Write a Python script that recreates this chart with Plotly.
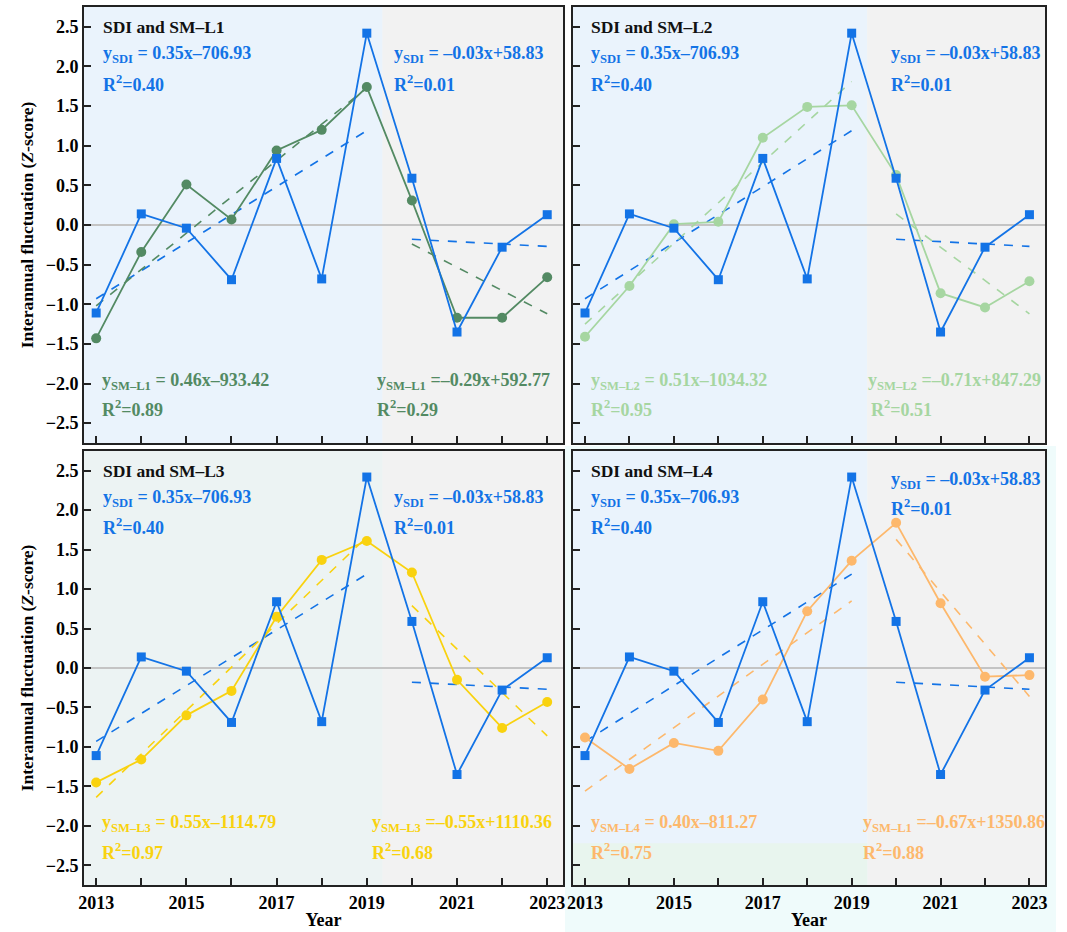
import plotly.graph_objects as go

# ---------------- data ----------------
years = [2013, 2014, 2015, 2016, 2017, 2018, 2019, 2020, 2021, 2022, 2023]
sdi = [-1.11, 0.14, -0.04, -0.69, 0.84, -0.68, 2.42, 0.59, -1.35, -0.28, 0.13]
sm_l1 = [-1.43, -0.34, 0.51, 0.07, 0.94, 1.20, 1.74, 0.31, -1.17, -1.17, -0.66]
sm_l2 = [-1.41, -0.77, 0.01, 0.04, 1.10, 1.49, 1.51, 0.63, -0.86, -1.04, -0.71]
sm_l3 = [-1.45, -1.16, -0.60, -0.29, 0.65, 1.37, 1.61, 1.21, -0.15, -0.76, -0.43]
sm_l4 = [-0.88, -1.28, -0.95, -1.05, -0.40, 0.72, 1.36, 1.84, 0.82, -0.11, -0.09]

early_years = [2013, 2019]
late_years = [2020, 2023]
sdi_trend_early = [-0.93, 1.19]
sdi_trend_late = [-0.18, -0.27]
l1_trend_early = [-1.02, 1.73]
l1_trend_late = [-0.24, -1.12]
l2_trend_early = [-1.25, 1.81]
l2_trend_late = [0.14, -1.12]
l3_trend_early = [-1.64, 1.66]
l3_trend_late = [0.79, -0.86]
l4_trend_early = [-1.56, 0.85]
l4_trend_late = [1.63, -0.36]

panel_titles = ["SDI and SM\u2013L1", "SDI and SM\u2013L2", "SDI and SM\u2013L3", "SDI and SM\u2013L4"]
sm_names = ["SM\u2013L1", "SM\u2013L2", "SM\u2013L3", "SM\u2013L4"]
sdi_eq_early = "y<sub>SDI</sub> = 0.35x\u2013706.93"
sdi_r2_early = "R<sup>2</sup>=0.40"
sdi_eq_late = "y<sub>SDI</sub> = \u20130.03x+58.83"
sdi_r2_late = "R<sup>2</sup>=0.01"
sm_eq_early = [
    "y<sub>SM\u2013L1</sub> = 0.46x\u2013933.42",
    "y<sub>SM\u2013L2</sub> = 0.51x\u20131034.32",
    "y<sub>SM\u2013L3</sub> = 0.55x\u20131114.79",
    "y<sub>SM\u2013L4</sub> = 0.40x\u2013811.27",
]
sm_r2_early = ["R<sup>2</sup>=0.89", "R<sup>2</sup>=0.95", "R<sup>2</sup>=0.97", "R<sup>2</sup>=0.75"]
sm_eq_late = [
    "y<sub>SM\u2013L1</sub> =\u20130.29x+592.77",
    "y<sub>SM\u2013L2</sub> =\u20130.71x+847.29",
    "y<sub>SM\u2013L3</sub> =\u20130.55x+1110.36",
    "y<sub>SM\u2013L1</sub> =\u20130.67x+1350.86",
]
sm_r2_late = ["R<sup>2</sup>=0.29", "R<sup>2</sup>=0.51", "R<sup>2</sup>=0.68", "R<sup>2</sup>=0.88"]

sm_series = [sm_l1, sm_l2, sm_l3, sm_l4]
sm_trend_early = [l1_trend_early, l2_trend_early, l3_trend_early, l4_trend_early]
sm_trend_late = [l1_trend_late, l2_trend_late, l3_trend_late, l4_trend_late]

# ---------------- style ----------------
SDI_COLOR = "#1373E6"
SM_COLORS = ["#538A63", "#A6D6A1", "#F9D20F", "#FDB86C"]
FONT = "Liberation Serif"
W, H = 1067, 932

# panel frames in pixels: (left, right, top, bottom)
frames = [(84, 563, 7, 443), (573, 1045, 7, 443), (84, 563, 451, 885), (573, 1045, 451, 885)]
XR = [2012.73, 2023.35]
YR = [-2.75, 2.75]
SPLIT = 2019.35

fig = go.Figure()
shapes = []
annotations = []

# light cyan backdrop behind the bottom-right panel
shapes.append(dict(type="rect", xref="paper", yref="paper", x0=565 / W, x1=1056 / W,
                   y0=0, y1=1 - 446 / H, fillcolor="#EFFBFB", line=dict(width=0), layer="below"))

left_bg = ["#EAF3FC", "#EAF3FC", "#ECF3F3", "#EAF3FC"]

for i in range(4):
    n = "" if i == 0 else str(i + 1)
    xa, ya = "x" + n, "y" + n
    l, r, t, b = frames[i]
    fig.layout["xaxis" + n] = dict(
        domain=[l / W, r / W], anchor=ya, range=XR, tickmode="array", automargin=False,
        tickvals=years, ticktext=[str(y) if y % 2 == 1 else "" for y in years],
        showticklabels=(i >= 2), ticks="inside", ticklen=7, tickwidth=1.5, tickcolor="#222",
        showline=True, mirror=True, linecolor="#222", linewidth=2,
        showgrid=False, zeroline=False,
        tickfont=dict(family=FONT, size=18, color="black", weight="bold"),
        title=dict(text="Year" if i >= 2 else "", standoff=2,
                   font=dict(family=FONT, size=18, color="black", weight="bold")),
    )
    fig.layout["yaxis" + n] = dict(
        domain=[1 - b / H, 1 - t / H], anchor=xa, range=YR, automargin=False,
        tickvals=[-2.5, -2.0, -1.5, -1.0, -0.5, 0.0, 0.5, 1.0, 1.5, 2.0, 2.5],
        tickformat=".1f", showticklabels=(i % 2 == 0),
        ticks="inside", ticklen=7, tickwidth=1.5, tickcolor="#222",
        showline=True, mirror=True, linecolor="#222", linewidth=2,
        showgrid=False, zeroline=True, zerolinecolor="#C4C4C4", zerolinewidth=2,
        tickfont=dict(family=FONT, size=18, color="black", weight="bold"),
        title=dict(text="Interannual fluctuation (<i>Z</i>-score)" if i % 2 == 0 else "",
                   standoff=8, font=dict(family=FONT, size=17.5, color="black", weight="bold")),
    )

    # backgrounds
    shapes.append(dict(type="rect", xref=xa, yref=ya, x0=XR[0], x1=SPLIT, y0=YR[0], y1=YR[1],
                       fillcolor=left_bg[i], line=dict(width=0), layer="below"))
    shapes.append(dict(type="rect", xref=xa, yref=ya, x0=SPLIT, x1=XR[1], y0=YR[0], y1=YR[1],
                       fillcolor="#F2F2F2", line=dict(width=0), layer="below"))
    if i == 3:
        shapes.append(dict(type="rect", xref=xa, yref=ya, x0=XR[0], x1=SPLIT, y0=YR[0], y1=-2.22,
                           fillcolor="#E8F5EE", line=dict(width=0), layer="below"))

    c = SM_COLORS[i]
    # trend lines
    for xs, ys, col in [(early_years, sdi_trend_early, SDI_COLOR), (late_years, sdi_trend_late, SDI_COLOR),
                        (early_years, sm_trend_early[i], c), (late_years, sm_trend_late[i], c)]:
        fig.add_trace(go.Scatter(x=xs, y=ys, mode="lines", xaxis=xa, yaxis=ya, showlegend=False,
                                 line=dict(color=col, width=1.6, dash="dash"), hoverinfo="skip"))
    # data series
    fig.add_trace(go.Scatter(x=years, y=sm_series[i], mode="lines+markers", xaxis=xa, yaxis=ya,
                             name=sm_names[i], showlegend=False,
                             line=dict(color=c, width=1.8), marker=dict(symbol="circle", size=10, color=c)))
    fig.add_trace(go.Scatter(x=years, y=sdi, mode="lines+markers", xaxis=xa, yaxis=ya,
                             name="SDI", showlegend=False,
                             line=dict(color=SDI_COLOR, width=1.8),
                             marker=dict(symbol="square", size=9, color=SDI_COLOR)))

    def ann(x, y, text, color, size=18):
        annotations.append(dict(xref=xa, yref=ya, x=x, y=y, text=text, showarrow=False,
                                xanchor="left", yanchor="middle",
                                font=dict(family=FONT, size=size, color=color, weight="bold")))

    ann(2013.1, 2.5, panel_titles[i], "#111", 17.5)
    ann(2013.1, 2.15, sdi_eq_early, SDI_COLOR)
    ann(2013.1, 1.79, sdi_r2_early, SDI_COLOR)
    if i == 3:
        sx, sy1, sy2 = 2019.85, 2.37, 2.03
    elif i % 2 == 1:
        sx, sy1, sy2 = 2019.85, 2.15, 1.79
    else:
        sx, sy1, sy2 = 2019.56, 2.15, 1.79
    ann(sx, sy1, sdi_eq_late, SDI_COLOR)
    ann(sx, sy2, sdi_r2_late, SDI_COLOR)
    ann(2013.08, -1.97, sm_eq_early[i], c)
    ann(2013.08, -2.32, sm_r2_early[i], c)
    late_x = [2019.18, 2019.32, 2019.07, 2019.2][i]
    late_r2_x = [2019.18, 2019.4, 2019.07, 2019.2][i]
    ann(late_x, -1.97, sm_eq_late[i], c)
    ann(late_r2_x, -2.32, sm_r2_late[i], c)

fig.update_layout(
    width=W, height=H, margin=dict(l=0, r=0, t=0, b=0),
    paper_bgcolor="white", plot_bgcolor="#F2F2F2",
    shapes=shapes, annotations=annotations, showlegend=False,
    font=dict(family=FONT, color="black"),
)

fig.write_html("out.html", config={"displayModeBar": False},
               post_script="document.body.style.margin='0';")
